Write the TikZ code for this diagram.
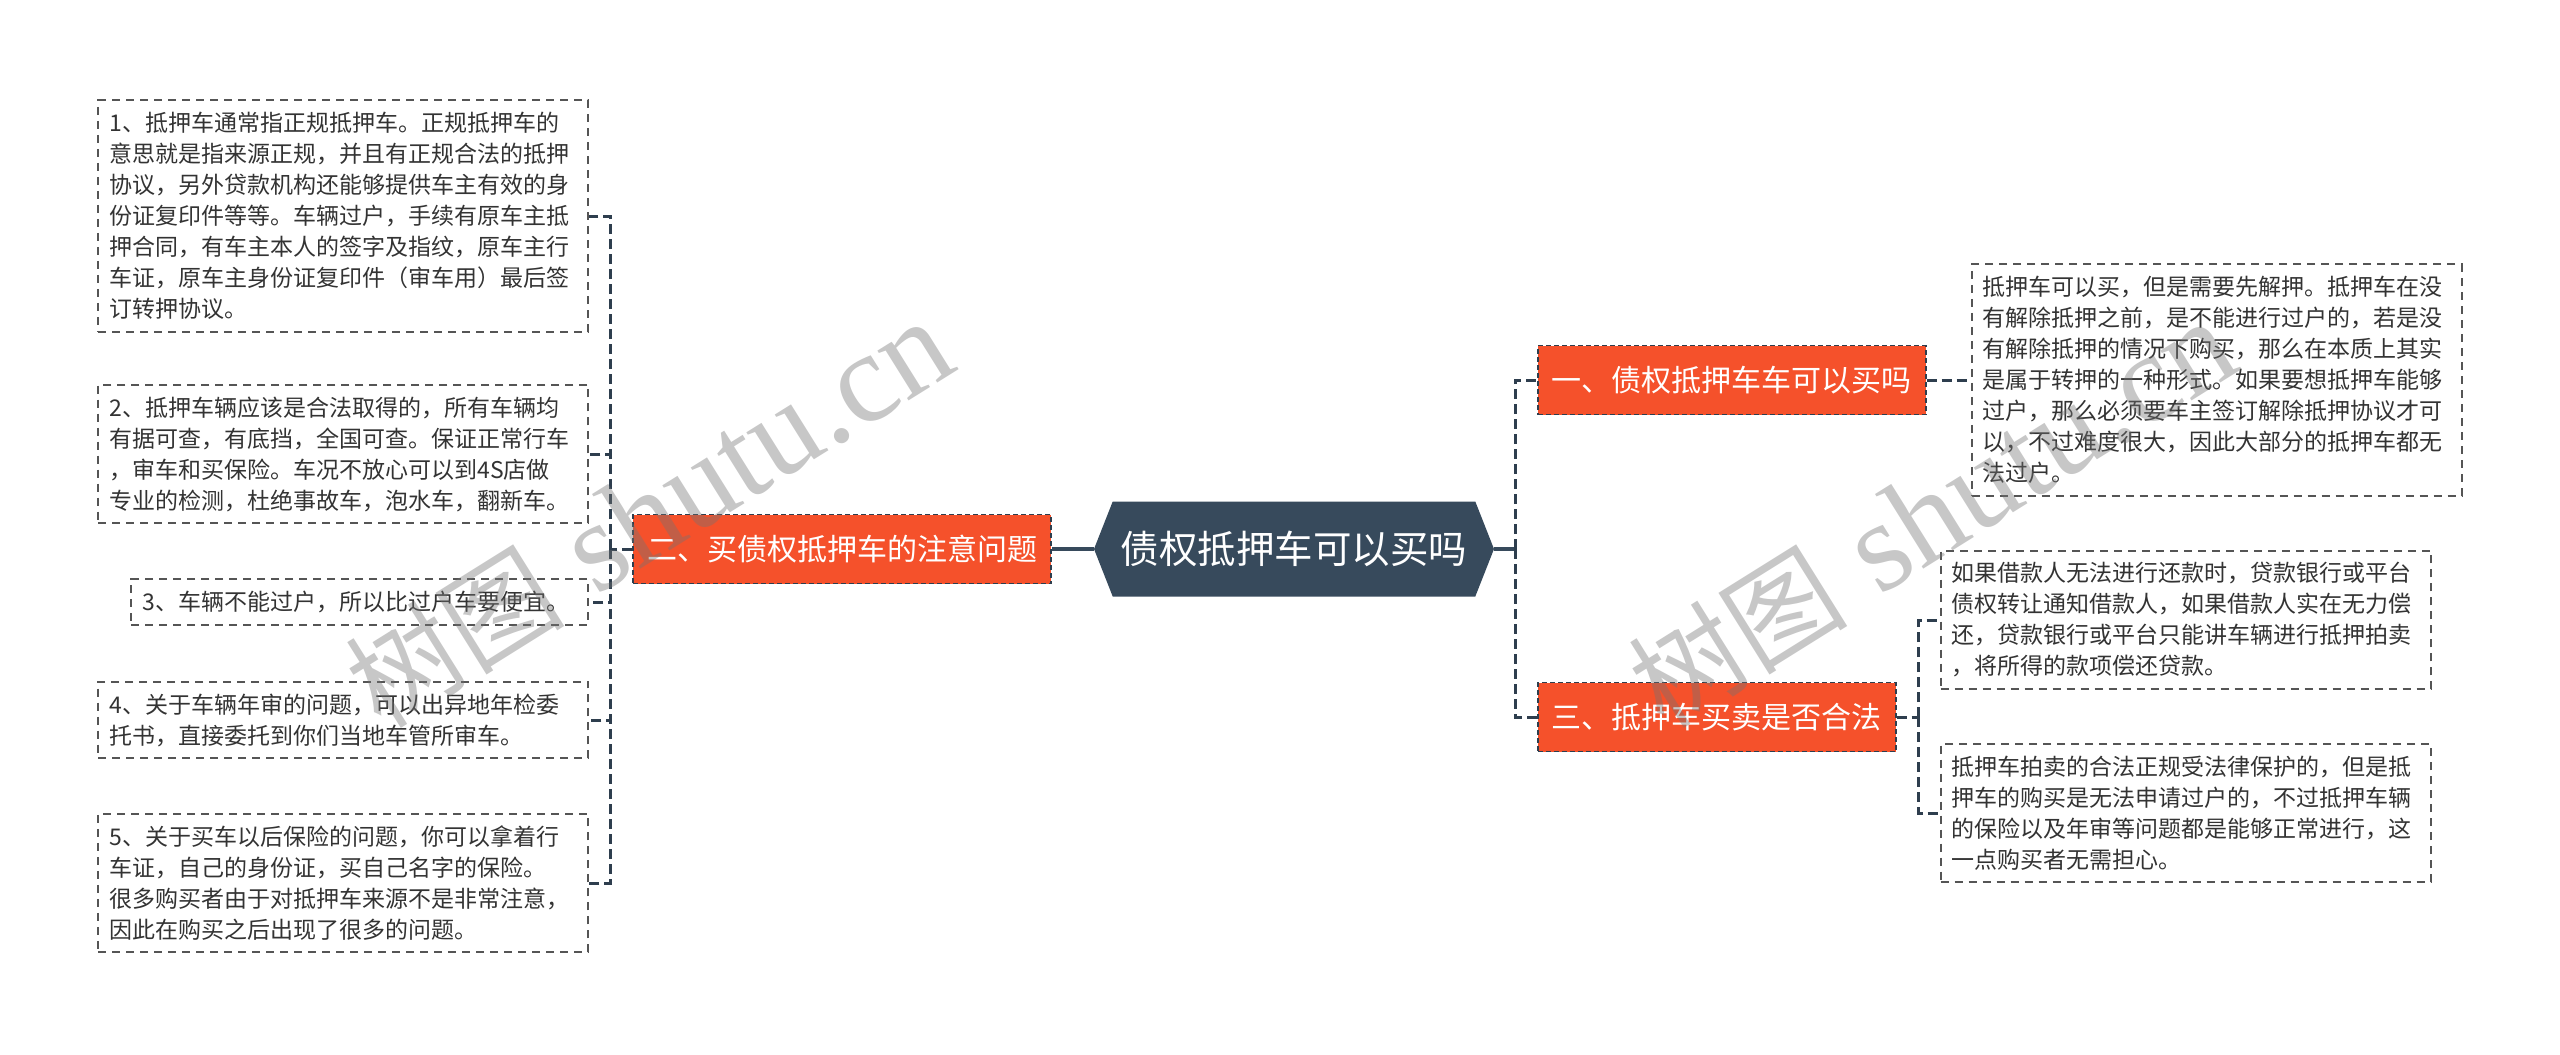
\documentclass[tikz,border=0pt]{standalone}
\usepackage{fontspec}
\setmainfont{Noto Sans CJK SC}
\newfontfamily\markfont{Liberation Serif}
\usepackage{xcolor}
\usepackage{tikz}
\usetikzlibrary{positioning, shapes.symbols}

\definecolor{rootblue}{HTML}{374A5C}
\definecolor{secorange}{HTML}{F5512B}
\definecolor{linkdark}{HTML}{2E3E4E}
\definecolor{boxgray}{HTML}{555555}
\definecolor{txtgray}{HTML}{333333}

\begin{document}
\begin{tikzpicture}[
  x=1pt, y=-1pt,
  root/.style={
    signal, signal to=west and east, signal pointer angle=137,
    fill=rootblue, text=white, inner xsep=8pt,
    minimum width=400pt, minimum height=95pt,
    font=\fontsize{38.5}{38.5}\selectfont},
  sec/.style={
    rectangle, draw=linkdark, line width=1.5pt,
    dash pattern=on 5pt off 3pt,
    fill=secorange, text=white, inner xsep=14pt,
    minimum height=69pt, font=\fontsize{30}{30}\selectfont},
  leaf/.style={
    rectangle, draw=boxgray, line width=2pt,
    dash pattern=on 8pt off 6pt,
    text=txtgray, text width=468pt, align=left,
    inner xsep=11pt, inner ysep=12pt,
    font=\fontsize{23}{31}\selectfont},
  trunk/.style={line width=3.5pt, draw=rootblue},
  link/.style={line width=3pt, draw=linkdark, dash pattern=on 10pt off 5pt},
  wmark/.style={text=black!55, text opacity=0.4,
    font=\fontsize{110}{110}\selectfont, rotate=32}
]
\useasboundingbox (0,0) rectangle (2560,1055);

%% Root and main branches
\node[root] (root) at (1294,549) {债权抵押车可以买吗};
\node[sec, left=42pt of root]                (sec2) {二、买债权抵押车的注意问题};
\node[sec, right=43pt of root, yshift=169pt]  (sec1) {一、债权抵押车车可以买吗};
\node[sec, right=43pt of root, yshift=-168pt] (sec3) {三、抵押车买卖是否合法};

%% Left leaves
\node[leaf, left=43pt of sec2, yshift=333pt] (L1)
  {1、抵押车通常指正规抵押车。正规抵押车的\\
   意思就是指来源正规，并且有正规合法的抵押\\
   协议，另外贷款机构还能够提供车主有效的身\\
   份证复印件等等。车辆过户，手续有原车主抵\\
   押合同，有车主本人的签字及指纹，原车主行\\
   车证，原车主身份证复印件（审车用）最后签\\
   订转押协议。};
\node[leaf, left=43pt of sec2, yshift=95pt] (L2)
  {2、抵押车辆应该是合法取得的，所有车辆均\\
   有据可查，有底挡，全国可查。保证正常行车\\
   ，审车和买保险。车况不放心可以到4S店做\\
   专业的检测，杜绝事故车，泡水车，翻新车。};
\node[leaf, text width=435pt, left=43pt of sec2, yshift=-53pt] (L3)
  {3、车辆不能过户，所以比过户车要便宜。};
\node[leaf, left=43pt of sec2, yshift=-171pt] (L4)
  {4、关于车辆年审的问题，可以出异地年检委\\
   托书，直接委托到你们当地车管所审车。};
\node[leaf, left=43pt of sec2, yshift=-334pt] (L5)
  {5、关于买车以后保险的问题，你可以拿着行\\
   车证，自己的身份证，买自己名字的保险。\\
   很多购买者由于对抵押车来源不是非常注意，\\
   因此在购买之后出现了很多的问题。};

%% Right leaves
\node[leaf, right=44pt of sec1] (RA)
  {抵押车可以买，但是需要先解押。抵押车在没\\
   有解除抵押之前，是不能进行过户的，若是没\\
   有解除抵押的情况下购买，那么在本质上其实\\
   是属于转押的一种形式。如果要想抵押车能够\\
   过户，那么必须要车主签订解除抵押协议才可\\
   以，不过难度很大，因此大部分的抵押车都无\\
   法过户。};
\node[leaf, right=43pt of sec3, yshift=97pt] (RB)
  {如果借款人无法进行还款时，贷款银行或平台\\
   债权转让通知借款人，如果借款人实在无力偿\\
   还，贷款银行或平台只能讲车辆进行抵押拍卖\\
   ，将所得的款项偿还贷款。};
\node[leaf, right=43pt of sec3, yshift=-96pt] (RC)
  {抵押车拍卖的合法正规受法律保护的，但是抵\\
   押车的购买是无法申请过户的，不过抵押车辆\\
   的保险以及年审等问题都是能够正常进行，这\\
   一点购买者无需担心。};

%% Bus points
\coordinate (lbus) at ([xshift=-22pt]sec2.west);
\coordinate (rbus) at ([xshift=21pt]root.east);
\coordinate (sbus) at ([xshift=22pt]sec3.east);

%% Connectors
\draw[trunk] (root.west) -- (sec2.east);
\draw[trunk] (root.east) -- (rbus);
\foreach \n in {sec1,sec3}
  \draw[link] (rbus) |- (\n.west);
\draw[link] (sec2.west) -- (lbus);
\foreach \n in {L1,L2,L3,L4,L5}
  \draw[link] (lbus) |- (\n.east);
\draw[link] (sec1) -- (RA);
\draw[link] (sec3.east) -- (sbus);
\foreach \n in {RB,RC}
  \draw[link] (sbus) |- (\n.west);

%% Watermarks
\node[wmark] (wm1) at (649,514)
  {树图\hspace{0.3em}{\markfont\fontsize{128}{128}\selectfont shutu.cn}};
\node[wmark] (wm2) at (1932,514)
  {树图\hspace{0.3em}{\markfont\fontsize{128}{128}\selectfont shutu.cn}};

\end{tikzpicture}
\end{document}
